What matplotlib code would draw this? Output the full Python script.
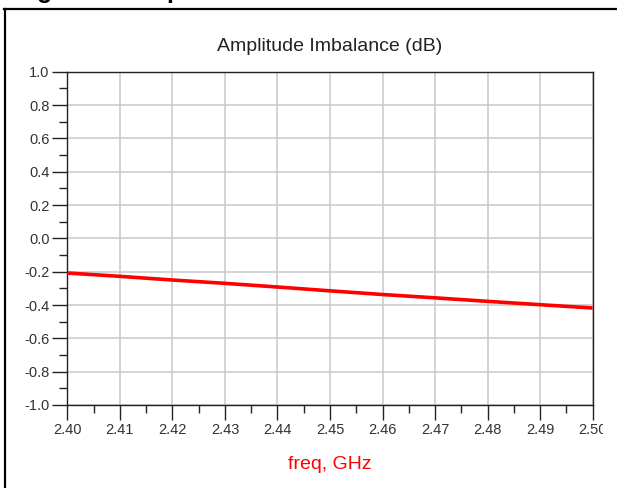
import matplotlib
matplotlib.use("Agg")
import matplotlib.pyplot as plt
import numpy as np
from matplotlib.lines import Line2D
from matplotlib.patches import Rectangle

plt.rcParams['font.family'] = ['Liberation Sans', 'DejaVu Sans']
plt.rcParams['axes.unicode_minus'] = False

# data
freq_ghz = [2.40, 2.41, 2.42, 2.43, 2.44, 2.45, 2.46, 2.47, 2.48, 2.49, 2.50]
amp_imb_db = [-0.208, -0.228, -0.250, -0.270, -0.292, -0.315, -0.337, -0.357, -0.378, -0.398, -0.418]

x_ticks = [2.40, 2.41, 2.42, 2.43, 2.44, 2.45, 2.46, 2.47, 2.48, 2.49, 2.50]
y_ticks = [1.0, 0.8, 0.6, 0.4, 0.2, 0.0, -0.2, -0.4, -0.6, -0.8, -1.0]

W, H = 617, 488
fig = plt.figure(figsize=(W / 100, H / 100), dpi=100)
ax = fig.add_axes([67.4 / W, 83 / H, 525.2 / W, 333.3 / H])

ax.plot(freq_ghz, amp_imb_db, color='#ff0000', lw=2.6, solid_capstyle='butt', zorder=3)

ax.set_xlim(2.40, 2.50)
ax.set_ylim(-1.0, 1.0)
ax.set_xticks(x_ticks)
ax.set_xticklabels(['%.2f' % v for v in x_ticks])
ax.set_xticks(np.array(x_ticks[:-1]) + 0.005, minor=True)
ax.set_yticks(y_ticks)
ax.set_yticklabels(['%.1f' % v for v in y_ticks])
ax.set_yticks(np.array(y_ticks[:-1]) - 0.1, minor=True)

ax.grid(True, which='major', color='#c8c8c8', lw=1.1)
ax.set_axisbelow(True)
for s in ax.spines.values():
    s.set_color('#222222')
    s.set_linewidth(1.0)

ax.tick_params(which='major', direction='out', length=10.8, width=1.0,
               color='#222222', labelsize=10.5, labelcolor='#333333', pad=2)
ax.tick_params(which='minor', direction='out', length=5.8, width=1.0, color='#222222')

ax.set_title('Amplitude Imbalance (dB)', fontsize=14, color='#222222', pad=15)
ax.set_xlabel('freq, GHz', fontsize=14, color='#ff0000', labelpad=14)

# page frame and cut-off heading from the source document
fig.add_artist(Line2D([4 / W, 1.0], [1 - 9 / H, 1 - 9 / H], color='black', lw=1.6,
                      transform=fig.transFigure))
fig.add_artist(Line2D([4.5 / W, 4.5 / W], [1 - 9 / H, 0], color='black', lw=1.6,
                      transform=fig.transFigure))
fig.text(15 / W, 1 + 2 / H, 'Figure 6: Amplitude Imbalance', fontsize=18,
         fontweight='bold', ha='left', va='baseline')

# right edge of the last tick label is cut off in the reference
fig.add_artist(Rectangle((603 / W, 43 / H), 14 / W, 30 / H, facecolor='white',
                         edgecolor='none', transform=fig.transFigure, zorder=10))

fig.savefig('out.png', dpi=100)
